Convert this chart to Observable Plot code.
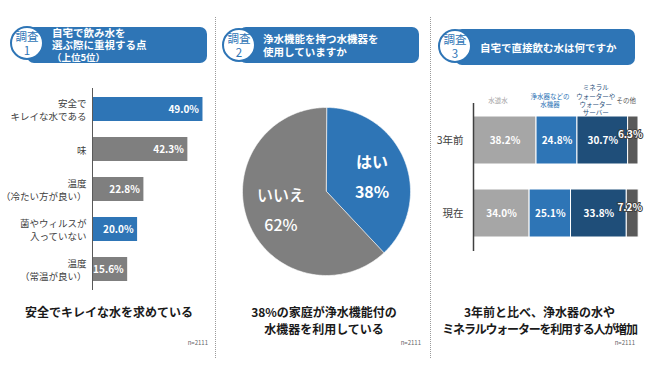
<!DOCTYPE html>
<html><head><meta charset="utf-8">
<script src="https://cdn.jsdelivr.net/npm/d3@7"></script>
<script src="https://cdn.jsdelivr.net/npm/@observablehq/plot@0.6"></script>
<style>
body{margin:0;background:#fff;font-family:"Noto Sans CJK JP","Noto Sans",sans-serif;}
#root{position:relative;width:650px;height:366px;overflow:hidden;background:#fff}
.chart{position:absolute}
.sep{position:absolute;top:17px;height:341px;width:0;border-left:1.5px dotted #9a9a9a}
.hdr{position:absolute;height:36px;background:#2E75B6;border-radius:7px;color:#fff;font-weight:700;font-size:10.5px;display:flex;flex-direction:column;justify-content:center;box-sizing:border-box;white-space:nowrap}
.badge{position:absolute;width:30px;height:30px;border:2px solid #2E75B6;border-radius:50%;background:#fff;color:#2E75B6;font-size:11.5px;line-height:14px;text-align:center;display:flex;flex-direction:column;justify-content:center}
.cap{position:absolute;top:303px;font-weight:700;font-size:12px;color:#1a1a1a;text-align:center;line-height:17px;white-space:nowrap}
.n{position:absolute;top:339px;width:50px;font-size:6px;line-height:8px;color:#666;text-align:right}
</style></head>
<body><div id="root"></div>
<script>
// ---- data ----
const factors = ["安全で\nキレイな水である","味","温度\n（冷たい方が良い）","菌やウィルスが\n入っていない","温度\n（常温が良い）"];
const factorShares = [49.0, 42.3, 22.8, 20.0, 15.6];
const factorThemes = ["安全性","味","温度","安全性","温度"];

const pieLabels = ["はい","いいえ"];
const pieShares = [38, 62];

const periods = ["3年前","現在"];
const waterTypes = ["水道水","浄水器などの\n水機器","ミネラル\nウォーターや\nウォーター\nサーバー","その他"];
const shares3YearsAgo = [38.2, 24.8, 30.7, 6.3];
const sharesNow = [34.0, 25.1, 33.8, 7.2];

const sampleSize = "n=2111";

// ---- styles ----
const BLUE = "#2E75B6", GRAY = "#7F7F7F";
const FONT = "'Noto Sans CJK JP','Noto Sans',sans-serif";
const fmt = v => d3.format(".1f")(v) + "%";
const root = document.getElementById("root");

function place(el, left, top, w) {
  const d = document.createElement("div");
  d.className = "chart";
  d.style.left = left + "px"; d.style.top = top + "px"; d.style.width = w + "px";
  d.appendChild(el); root.appendChild(d);
}
function html(cls, style, inner) {
  const d = document.createElement("div");
  d.className = cls; d.setAttribute("style", style); d.innerHTML = inner;
  root.appendChild(d);
}

// separators
html("sep", "left:215px", "");
html("sep", "left:430px", "");

// headers
html("hdr", "left:27px;top:27px;width:180px;padding-left:25px;line-height:12px",
  "<div>自宅で飲み水を</div><div>選ぶ際に重視する点</div><div style='font-size:9.5px'>（上位5位）</div>");
html("badge", "left:10px;top:26px", "<div>調査</div><div>1</div>");
html("hdr", "left:239px;top:27px;width:180px;padding-left:24px;line-height:13.5px",
  "<div>浄水機能を持つ水機器を</div><div>使用していますか</div>");
html("badge", "left:222px;top:28px", "<div>調査</div><div>2</div>");
html("hdr", "left:455px;top:29px;width:180px;padding-left:25px;line-height:13px",
  "<div>自宅で直接飲む水は何ですか</div>");
html("badge", "left:438px;top:29px", "<div>調査</div><div>3</div>");

// captions
html("cap", "left:0px;width:218px", "安全でキレイな水を求めている");
html("cap", "left:218px;width:212px", "38%の家庭が浄水機能付の<br>水機器を利用している");
html("cap", "left:432px;width:215px", "3年前と比べ、浄水器の水や<br><span style='letter-spacing:-1.2px'>ミネラルウォーターを利用する人が増加</span>");
html("n", "left:158px", sampleSize);
html("n", "left:371px", sampleSize);
html("n", "left:585px", sampleSize);

// ---- chart 1: horizontal bars ----
const d1 = factors.map((f, i) => ({factor: f, share: factorShares[i], theme: factorThemes[i]}));
place(Plot.plot({
  width: 216, height: 215, marginLeft: 92, marginRight: 0, marginTop: 8, marginBottom: 5,
  x: {domain: [0, 55], axis: null},
  y: {domain: factors, axis: null, paddingInner: 0.41, paddingOuter: 0.2},
  color: {domain: ["安全性","味","温度"], range: [BLUE, GRAY, GRAY]},
  style: {fontFamily: FONT, overflow: "visible", background: "transparent"},
  marks: [
    Plot.barX(d1, {x: "share", y: "factor", fill: "theme"}),
    Plot.ruleX([0], {stroke: "#595959", strokeWidth: 1}),
    Plot.text(d1, {y: "factor", text: "factor", frameAnchor: "left", textAnchor: "end", dx: -6,
      lineHeight: 1.35, fontSize: 9.5, fill: "#404040"}),
    Plot.text(d1, {x: "share", y: "factor", text: d => fmt(d.share), textAnchor: "end", dx: -4,
      fill: "white", fontWeight: "bold", fontSize: 10})
  ]
}), 0, 80, 216);

// ---- chart 2: pie ----
const R = 84;
const arcs = d3.pie().sort(null)(pieShares);
const piePts = arcs.flatMap((a, i) => {
  const pts = [{x: 0, y: 0, label: pieLabels[i]}];
  const n = Math.ceil((a.endAngle - a.startAngle) * 180 / Math.PI);
  for (let k = 0; k <= n; k++) {
    const t = a.startAngle + (a.endAngle - a.startAngle) * k / n;
    pts.push({x: R * Math.sin(t), y: R * Math.cos(t), label: pieLabels[i]});
  }
  return pts;
});
const pieText = arcs.map((a, i) => {
  const m = (a.startAngle + a.endAngle) / 2;
  return {x: 49 * Math.sin(m), y: 49 * Math.cos(m), text: pieLabels[i] + "\n" + pieShares[i] + "%"};
});
place(Plot.plot({
  width: 172, height: 172, margin: 0,
  x: {domain: [-86, 86], axis: null},
  y: {domain: [-86, 86], axis: null},
  color: {domain: pieLabels, range: [BLUE, GRAY]},
  style: {fontFamily: FONT, overflow: "visible", background: "transparent"},
  marks: [
    Plot.line(piePts, {x: "x", y: "y", z: "label", fill: "label", stroke: "white", strokeWidth: 0.6, curve: "linear-closed"}),
    Plot.text([pieText[0]], {x: "x", y: "y", text: "text", fill: "white", fontSize: 16, lineHeight: 1.85, fontWeight: "bold"}),
    Plot.text([pieText[1]], {x: "x", y: "y", text: "text", fill: "white", fontSize: 16, lineHeight: 1.85, fontWeight: 500, dy: -3})
  ]
}), 240, 105, 172);

// ---- chart 3: stacked bars ----
const d3data = periods.flatMap((p, pi) => waterTypes.map((t, ti) => ({
  period: p, type: t, share: (pi === 0 ? shares3YearsAgo : sharesNow)[ti]
})));
const lastType = waterTypes[waterTypes.length - 1];
place(Plot.plot({
  width: 215, height: 181, marginLeft: 43, marginRight: 7, marginTop: 28, marginBottom: 5,
  x: {domain: [0, 100], axis: null},
  y: {domain: periods, axis: null, paddingInner: 0.338, paddingOuter: 0.17},
  color: {domain: waterTypes, range: ["#A6A6A6", BLUE, "#1F4E79", "#595959"]},
  style: {fontFamily: FONT, overflow: "visible", background: "transparent"},
  marks: [
    Plot.barX(d3data, Plot.stackX({x: "share", y: "period", fill: "type", stroke: "white", strokeWidth: 1})),
    Plot.ruleX([0], {stroke: "#404040", strokeWidth: 1.5}),
    Plot.text(periods, {y: d => d, text: d => d, frameAnchor: "left", textAnchor: "end", dx: -10,
      fontSize: 10.5, fill: "#404040"}),
    Plot.text(d3data, Plot.stackX({x: "share", y: "period", z: "type",
      text: d => d.type === lastType ? "" : fmt(d.share), fill: "white", fontWeight: "bold", fontSize: 10})),
    Plot.text(d3data, Plot.stackX({x: "share", y: "period", z: "type",
      text: d => d.type === lastType ? fmt(d.share) : "", fill: "white", stroke: "#404040", strokeWidth: 2,
      fontWeight: "bold", fontSize: 10, dx: -3, dy: -6})),
    Plot.text(d3data, Plot.stackX({x: "share", y: "period", z: "type",
      text: d => d.period === periods[0] ? d.type : "", fill: "type", fontSize: 6.5, lineHeight: 1.28,
      dx: -7, dy: -40.5}))
  ]
}), 430, 75, 215);
</script>
</body></html>
